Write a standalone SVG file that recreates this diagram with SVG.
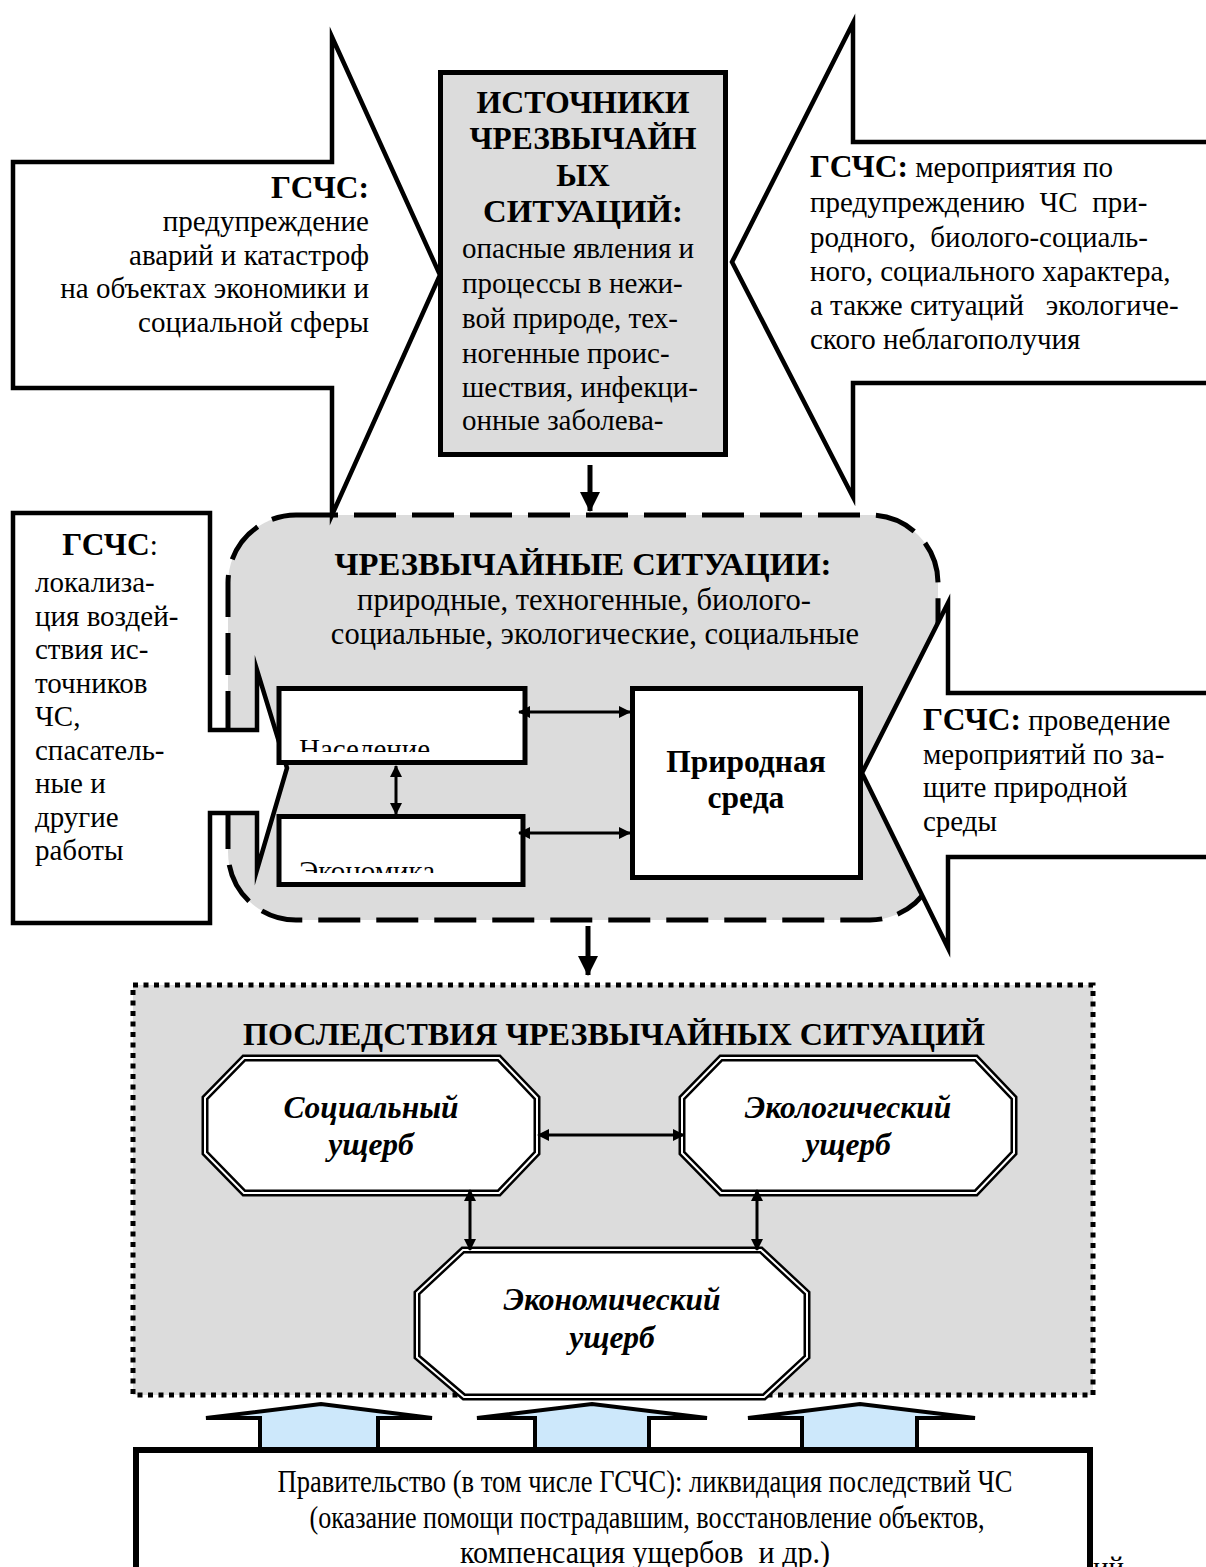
<svg xmlns="http://www.w3.org/2000/svg" width="1206" height="1567" viewBox="0 0 1206 1567">
<defs>
<style>
.t{font-family:"Liberation Serif","Times New Roman",serif;font-size:29px;fill:#000;white-space:pre}
.b{font-weight:bold;font-size:31.5px}
.h{font-weight:bold;font-size:31.5px}
.bi{font-weight:bold;font-style:italic;font-size:31.5px}
.m{font-size:30.5px}
.c{text-anchor:middle}
.e{text-anchor:end}
.shape{fill:#fff;stroke:#000;stroke-width:4.5;stroke-linejoin:miter;stroke-miterlimit:20}
.box{fill:#fff;stroke:#000;stroke-width:5}
.o1{fill:#fff;stroke:#000;stroke-width:7}
.o2{fill:none;stroke:#fff;stroke-width:2}
.con{stroke:#000;stroke-width:3;fill:none}
.big{stroke:#000;stroke-width:5;fill:none}
.up{fill:#cde8fb;stroke:#000;stroke-width:4;stroke-linejoin:miter;stroke-miterlimit:4}
</style>
<marker id="a" viewBox="0 0 12 12" refX="11" refY="6" markerWidth="12" markerHeight="12" markerUnits="userSpaceOnUse" orient="auto-start-reverse"><path d="M0,0L12,6L0,12z"/></marker>
<marker id="A" viewBox="0 0 20 20" refX="19" refY="10" markerWidth="20" markerHeight="20" markerUnits="userSpaceOnUse" orient="auto"><path d="M0,0L20,10L0,20z"/></marker>
<clipPath id="cN"><rect x="281" y="690" width="240" height="62"/></clipPath>
<clipPath id="cE"><rect x="281" y="819" width="240" height="54"/></clipPath>
</defs>
<rect x="0" y="0" width="1206" height="1567" fill="#fff"/>

<g id="emergencies">
<rect x="228" y="515" width="710" height="405" rx="68" ry="68" fill="#dcdcdc" stroke="#000" stroke-width="5" stroke-dasharray="42 16"/>
<text class="t h c" x="583" y="575" textLength="497" lengthAdjust="spacingAndGlyphs">ЧРЕЗВЫЧАЙНЫЕ СИТУАЦИИ:</text>
<text class="t m c" x="584" y="610">природные, техногенные, биолого-</text>
<text class="t m c" x="595" y="644">социальные, экологические, социальные</text>
</g>

<g id="consequences">
<rect x="133" y="985" width="960" height="410" fill="#dcdcdc" stroke="#000" stroke-width="5" stroke-dasharray="5 5.5"/>
<text class="t h c" x="614" y="1045" textLength="742" lengthAdjust="spacingAndGlyphs">ПОСЛЕДСТВИЯ ЧРЕЗВЫЧАЙНЫХ СИТУАЦИЙ</text>
</g>

<g id="sources">
<rect x="440.5" y="72.5" width="285" height="382" fill="#dcdcdc" stroke="#000" stroke-width="5"/>
<text class="t h c" x="583" y="113" textLength="213" lengthAdjust="spacingAndGlyphs">ИСТОЧНИКИ</text>
<text class="t h c" x="583" y="149" textLength="227" lengthAdjust="spacingAndGlyphs">ЧРЕЗВЫЧАЙН</text>
<text class="t h c" x="583" y="186">ЫХ</text>
<text class="t h c" x="583" y="222" textLength="200" lengthAdjust="spacingAndGlyphs">СИТУАЦИЙ:</text>
<text class="t" x="462" y="258">опасные явления и</text>
<text class="t" x="462" y="293">процессы в нежи-</text>
<text class="t" x="462" y="328">вой природе, тех-</text>
<text class="t" x="462" y="363">ногенные проис-</text>
<text class="t" x="462" y="397">шествия, инфекци-</text>
<text class="t" x="462" y="430">онные заболева-</text>
</g>

<g id="gschs-prevention">
<polygon class="shape" points="13,162 332,162 332,37 440,275 332,515 332,388 13,388"/>
<text class="t h e" x="369" y="198">ГСЧС:</text>
<text class="t e" x="369" y="231">предупреждение</text>
<text class="t e" x="369" y="265">аварий и катастроф</text>
<text class="t e" x="369" y="298">на объектах экономики и</text>
<text class="t e" x="369" y="332">социальной сферы</text>
</g>

<g id="gschs-measures">
<polygon class="shape" points="1212,142 853,142 853,23 732,262 853,497 853,383 1212,383"/>
<text class="t" x="810" y="177"><tspan class="b">ГСЧС:</tspan> мероприятия по</text>
<text class="t" x="810" y="212">предупреждению  ЧС  при-</text>
<text class="t" x="810" y="247">родного,  биолого-социаль-</text>
<text class="t" x="810" y="281">ного, социального характера,</text>
<text class="t" x="810" y="315">а также ситуаций   экологиче-</text>
<text class="t" x="810" y="349">ского неблагополучия</text>
</g>

<g id="gschs-localization">
<polygon class="shape" points="13,513 210,513 210,730 257,730 257,670 287,768 257,870 257,813 210,813 210,923 13,923"/>
<text class="t c" x="110" y="555"><tspan class="b">ГСЧС</tspan>:</text>
<text class="t" x="35" y="592">локализа-</text>
<text class="t" x="35" y="626">ция воздей-</text>
<text class="t" x="35" y="659">ствия ис-</text>
<text class="t" x="35" y="693">точников</text>
<text class="t" x="35" y="726">ЧС,</text>
<text class="t" x="35" y="760">спасатель-</text>
<text class="t" x="35" y="793">ные и</text>
<text class="t" x="35" y="827">другие</text>
<text class="t" x="35" y="860">работы</text>
</g>

<g id="gschs-nature">
<polygon class="shape" points="1212,693 948,693 948,603 862,773 948,948 948,857 1212,857"/>
<text class="t" x="923" y="730"><tspan class="b">ГСЧС:</tspan> проведение</text>
<text class="t" x="923" y="764">мероприятий по за-</text>
<text class="t" x="923" y="797">щите природной</text>
<text class="t" x="923" y="831">среды</text>
</g>

<g id="population">
<rect class="box" x="279" y="688.5" width="246" height="74"/>
<text class="t" x="299" y="759" clip-path="url(#cN)">Население</text>
</g>
<g id="economy">
<rect class="box" x="279" y="816.5" width="244" height="68"/>
<text class="t" x="299" y="881" clip-path="url(#cE)">Экономика</text>
</g>
<g id="nature">
<rect class="box" x="632.5" y="688.5" width="228" height="189"/>
<text class="t h c" x="746" y="772">Природная</text>
<text class="t h c" x="746" y="808">среда</text>
</g>

<g id="social-damage">
<polygon class="o1" points="244,1058 499,1058 537,1098 537,1153 499,1193 244,1193 205,1153 205,1098"/>
<polygon class="o2" points="244,1058 499,1058 537,1098 537,1153 499,1193 244,1193 205,1153 205,1098"/>
<text class="t bi c" x="371" y="1118">Социальный</text>
<text class="t bi c" x="371" y="1155">ущерб</text>
</g>
<g id="ecological-damage">
<polygon class="o1" points="721,1058 976,1058 1014,1098 1014,1153 976,1193 721,1193 682,1153 682,1098"/>
<polygon class="o2" points="721,1058 976,1058 1014,1098 1014,1153 976,1193 721,1193 682,1153 682,1098"/>
<text class="t bi c" x="848" y="1118">Экологический</text>
<text class="t bi c" x="848" y="1155">ущерб</text>
</g>
<g id="economic-damage">
<polygon class="o1" points="463,1250 761,1250 807,1293 807,1357 764,1397 464,1397 417,1357 417,1293"/>
<polygon class="o2" points="463,1250 761,1250 807,1293 807,1357 764,1397 464,1397 417,1357 417,1293"/>
<text class="t bi c" x="612" y="1310">Экономический</text>
<text class="t bi c" x="612" y="1348">ущерб</text>
</g>

<g id="connectors">
<line class="big" x1="590" y1="465" x2="590" y2="511" marker-end="url(#A)"/>
<line class="big" x1="588" y1="926" x2="588" y2="975" marker-end="url(#A)"/>
<line class="con" x1="519" y1="712" x2="630" y2="712" marker-start="url(#a)" marker-end="url(#a)"/>
<line class="con" x1="519" y1="833" x2="630" y2="833" marker-start="url(#a)" marker-end="url(#a)"/>
<line class="con" x1="396" y1="766" x2="396" y2="814" marker-start="url(#a)" marker-end="url(#a)"/>
<line class="con" x1="538" y1="1135" x2="684" y2="1135" marker-start="url(#a)" marker-end="url(#a)"/>
<line class="con" x1="470" y1="1190" x2="470" y2="1250" marker-start="url(#a)" marker-end="url(#a)"/>
<line class="con" x1="757" y1="1190" x2="757" y2="1250" marker-start="url(#a)" marker-end="url(#a)"/>
<polygon class="up" points="206,1418 321,1404 432,1418 378,1418 378,1450 260,1450 260,1418"/>
<polygon class="up" points="477,1418 592,1404 707,1418 649,1418 649,1450 535,1450 535,1418"/>
<polygon class="up" points="748,1418 860,1404 975,1418 917,1418 917,1450 802,1450 802,1418"/>
</g>

<g id="government">
<rect x="136" y="1450" width="954" height="140" fill="#fff" stroke="#000" stroke-width="6"/>
<text class="t c" x="645" y="1492" textLength="735" lengthAdjust="spacingAndGlyphs" style="font-size:31px">Правительство (в том числе ГСЧС): ликвидация последствий ЧС</text>
<text class="t c" x="647" y="1528" textLength="675" lengthAdjust="spacingAndGlyphs" style="font-size:31px">(оказание помощи пострадавшим, восстановление объектов,</text>
<text class="t c" x="645" y="1563" textLength="370" lengthAdjust="spacingAndGlyphs" style="font-size:31px">компенсация ущербов  и др.)</text>
</g>
<text class="t" x="1093" y="1577">ий</text>
</svg>
